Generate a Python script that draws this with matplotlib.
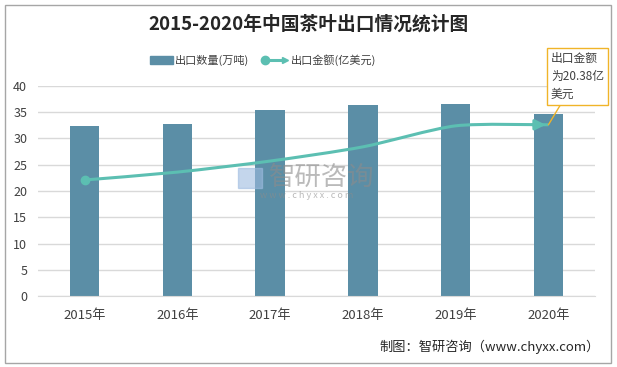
import numpy as np
import matplotlib.pyplot as plt
from matplotlib.path import Path
from matplotlib.patches import PathPatch, Rectangle

plt.rcParams['font.family'] = ['Noto Sans CJK SC', 'DejaVu Sans']

years = ['2015年', '2016年', '2017年', '2018年', '2019年', '2020年']
volume = [32.4, 32.8, 35.4, 36.4, 36.6, 34.7]      # 出口数量(万吨)
value = [22.1, 23.6, 25.7, 28.4, 32.4, 32.6]       # 出口金额(亿美元)
yticks = [0, 5, 10, 15, 20, 25, 30, 35, 40]

BAR_C = '#5b8ea6'
LINE_C = '#5cbfb2'
GRID_C = '#d9d9d9'
TXT_C = '#404040'

fig = plt.figure(figsize=(6.17, 3.67), dpi=100)
fig.patches.append(Rectangle((0.008, 0.012), 0.982, 0.975, transform=fig.transFigure,
                             fill=False, edgecolor='#a6a6a6', lw=1))
ax = fig.add_axes([0.062, 0.193, 0.902, 0.573])

x = np.arange(len(years))
ax.bar(x, volume, width=0.32, color=BAR_C, zorder=2, label='出口数量(万吨)')

# smooth line through the points (Catmull-Rom -> Bezier)
pts = np.column_stack([x, value]).astype(float)
verts = [tuple(pts[0])]
codes = [Path.MOVETO]
for i in range(len(pts) - 1):
    p0 = pts[i - 1] if i > 0 else pts[i]
    p1, p2 = pts[i], pts[i + 1]
    p3 = pts[i + 2] if i + 2 < len(pts) else pts[i + 1]
    c1 = p1 + (p2 - p0) / 8
    c2 = p2 - (p3 - p1) / 8
    verts += [tuple(c1), tuple(c2), tuple(p2)]
    codes += [Path.CURVE4] * 3
ax.add_patch(PathPatch(Path(verts, codes), fill=False, edgecolor=LINE_C, lw=2.2, zorder=3))
ax.plot(x[0], value[0], 'o', color=LINE_C, ms=6, zorder=4)
ax.annotate('', xy=(x[-1], value[-1]), xytext=(x[-1] - 0.2, value[-1]),
            arrowprops=dict(arrowstyle='-|>,head_length=0.6,head_width=0.3',
                            color=LINE_C, lw=2.2), zorder=4)

ax.set_xlim(-0.5, len(years) - 0.5)
ax.set_ylim(0, 40)
ax.set_yticks(yticks)
ax.set_xticks(x)
ax.set_xticklabels(years, fontsize=9.5, color=TXT_C)
ax.tick_params(axis='y', labelsize=9, colors=TXT_C, length=0, pad=8)
ax.tick_params(axis='x', length=0, pad=9)
ax.grid(axis='y', color=GRID_C, lw=1, zorder=0)
for s in ['top', 'right', 'left']:
    ax.spines[s].set_visible(False)
ax.spines['bottom'].set_color(GRID_C)

# legend (built by hand)
ly = 1 - 60 / 367
fig.patches.append(Rectangle((150 / 617, ly - 4 / 367), 23 / 617, 8 / 367,
                             transform=fig.transFigure, color=BAR_C))
fig.text(175 / 617, ly, '出口数量(万吨)', fontsize=8, color=TXT_C, va='center')
fig.add_artist(plt.Line2D([265 / 617, 282 / 617], [ly] * 2,
                          transform=fig.transFigure, color=LINE_C, lw=2.2,
                          marker='o', markevery=[0], ms=6))
fig.add_artist(plt.Line2D([285 / 617], [ly], transform=fig.transFigure,
                          color=LINE_C, marker='>', ms=5, lw=0))
fig.text(291 / 617, ly, '出口金额(亿美元)', fontsize=8, color=TXT_C, va='center')

fig.text(0.5, 1 - 24 / 367, '2015-2020年中国茶叶出口情况统计图', fontsize=13.5,
         fontweight='bold', color='#262626', ha='center', va='center')

# callout
ax.annotate('出口金额\n为20.38亿\n美元', xy=(x[-1], value[-1]), xytext=(551 / 617, 1 - 52 / 367),
            textcoords='figure fraction', fontsize=8.5, color=TXT_C, va='top', ha='left',
            linespacing=1.5,
            bbox=dict(boxstyle='square,pad=0.3', fc='white', ec='#f0b429', lw=1),
            arrowprops=dict(arrowstyle='-', color='#f0b429', lw=1, shrinkA=0, shrinkB=0),
            zorder=5)

# watermark
fig.text(322 / 617, 1 - 177 / 367, '智研咨询', fontsize=19, color='#8c8c8c', alpha=0.6,
         ha='center', va='center', zorder=10)
fig.text(307 / 617, 1 - 196 / 367, 'w w w . c h y x x . c o m', fontsize=6.5,
         color='#8c8c8c', alpha=0.6, ha='center', va='center', zorder=10)
fig.add_artist(Rectangle((238 / 617, 1 - 188 / 367), 24 / 617, 20 / 367,
                         transform=fig.transFigure, color='#9dbbe0', alpha=0.6, zorder=10))

fig.text(600 / 617, 1 - 347 / 367, '制图：智研咨询（www.chyxx.com）', fontsize=9.5,
         color='#262626', ha='right', va='center')

fig.savefig('out.png', dpi=100)
